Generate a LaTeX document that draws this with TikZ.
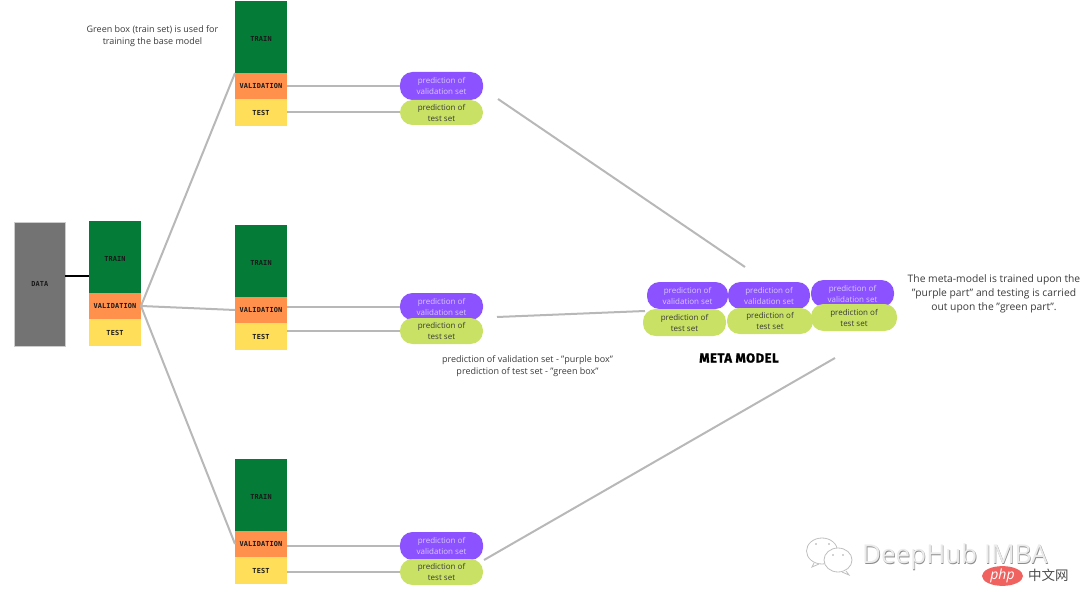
\documentclass[tikz,border=0pt]{standalone}
\usetikzlibrary{shapes.geometric}
\usepackage{fontspec}
\setmainfont{Open Sans}
\newfontfamily\monof[LetterSpace=2]{DejaVu Sans Mono}
\newfontfamily\headf[LetterSpace=4,FakeBold=1.2]{Fira Sans}
\newfontfamily\cjkf{Noto Sans CJK SC}
\definecolor{cgreen}{HTML}{047C38}
\definecolor{corange}{HTML}{FF914D}
\definecolor{cyellow}{HTML}{FFDE59}
\definecolor{cgray}{HTML}{737373}
\definecolor{cpurple}{HTML}{8C52FF}
\definecolor{clime}{HTML}{C9E265}
\definecolor{cline}{HTML}{B8B8B8}
\definecolor{clav}{HTML}{D8C8FF}
\definecolor{cnote}{HTML}{3A3A3A}
\definecolor{cphp}{HTML}{F0625F}
\tikzset{
  x=1pt,y=-1pt,
  blockbox/.style={inner sep=0pt,outer sep=0pt,minimum width=52pt,font=\monof\bfseries\fontsize{6.9}{8}\selectfont,text=black!90},
  trainbox/.style={blockbox,fill=cgreen,minimum height=72pt},
  valbox/.style={blockbox,fill=corange,minimum height=26pt},
  testbox/.style={blockbox,fill=cyellow,minimum height=27pt},
  pillbase/.style={rounded corners=12.5pt,inner sep=0pt,outer sep=0pt,align=center,font=\fontsize{8}{11}\selectfont},
  purplepill/.style={pillbase,fill=cpurple,text=clav,minimum height=27pt},
  limepill/.style={pillbase,fill=clime,text=cnote,minimum height=26pt},
  link/.style={draw=cline,line width=2pt},
  note/.style={align=center,text=cnote,inner sep=0pt,font=\fontsize{9}{12}\selectfont},
  wm/.style={inner sep=0pt,text=black!22}
}
\newcommand{\stackat}[3]{% name, left x, top y
  \node[trainbox,anchor=north west] (#1t) at (#2,#3) {\raisebox{-4.5pt}[0pt][0pt]{TRAIN}};
  \node[valbox,anchor=north] (#1v) at (#1t.south) {VALIDATION};
  \node[testbox,anchor=north] (#1e) at (#1v.south) {TEST};
}
\begin{document}
\begin{tikzpicture}
\useasboundingbox (0,0) rectangle (1080,607);
\coordinate (ma) at (745,267);
\coordinate (mb) at (835,358);
\coordinate (sa) at (498,99);
\coordinate (sb) at (497,317);

% data and stacks
\node[fill=cgray,draw=black!20,line width=.6pt,inner sep=0pt,minimum width=51pt,minimum height=124pt,anchor=north west,font=\monof\bfseries\fontsize{6.9}{8}\selectfont,text=black!90] (data) at (14,222) {\raisebox{1pt}{DATA}};
\stackat{z}{89}{221}
\stackat{a}{235}{1}
\stackat{b}{235}{225}
\stackat{c}{235}{459}
\coordinate (zo) at (141,306);
\coordinate (dj) at (65,276);
\coordinate (zj) at (89,276);

% connectors
\draw[black,line width=1.5pt] (dj) -- (zj);
\draw[link] (zo) -- (at.south west);
\draw[link] (zo) -- (bv.west);
\draw[link] (zo) -- (cv.west);
\coordinate (m1in) at (645,311);
\draw[link] (sa) -- (ma);
\draw[link] (sb) -- (m1in);
\coordinate (cs) at (484,560);
\draw[link] (cs) -- (mb);

% pills, stacks
\node[purplepill,minimum width=83pt,minimum height=28pt,anchor=north west] (ap) at (400,72) {prediction of\\validation set};
\node[limepill,minimum width=83pt,minimum height=25pt,anchor=north west] (al) at (400,100) {prediction of\\test set};
\node[purplepill,minimum width=83pt,anchor=north west] (bp) at (400,293) {prediction of\\validation set};
\node[limepill,minimum width=83pt,anchor=north west] (bl) at (400,318) {prediction of\\test set};
\node[purplepill,minimum width=83pt,minimum height=28pt,anchor=north west] (cp) at (400,532) {prediction of\\validation set};
\node[limepill,minimum width=83pt,anchor=north west] (cl) at (400,559) {prediction of\\test set};

\draw[link] (av.east |- ap.west) -- (ap.west);
\draw[link] (ae.east |- al.west) -- (al.west);
\draw[link] (bv.east |- bp.west) -- (bp.west);
\draw[link] (be.east |- bl.west) -- (bl.west);
\draw[link] (cv.east |- cp.west) -- (cp.west);
\draw[link] (ce.east |- cl.west) -- (cl.west);

% meta pills
\node[purplepill,minimum width=81pt,anchor=north west] (m1p) at (647,282) {prediction of\\validation set};
\node[purplepill,minimum width=82pt,anchor=north west] (m2p) at (728,282) {prediction of\\validation set};
\node[purplepill,minimum width=83pt,anchor=north west] (m3p) at (811,280) {prediction of\\validation set};
\node[limepill,minimum width=83pt,minimum height=27pt,anchor=north west] (m1l) at (643,309) {prediction of\\test set};
\node[limepill,minimum width=86pt,anchor=north west] (m2l) at (727,308) {prediction of\\test set};
\node[limepill,minimum width=86pt,minimum height=27pt,anchor=north west] (m3l) at (811,304) {prediction of\\test set};

% notes
\node[note] (n1) at (152.5,36) {Green box (train set) is used for\\training the base model};
\node[note] (n2) at (527.5,366) {prediction of validation set - "purple box"\\prediction of test set - "green box"};
\node[note,font=\fontsize{10.3}{14}\selectfont] (n3) at (994,294) {The meta-model is trained upon the\\"purple part" and testing is carried\\out upon the "green part".};
\node[inner sep=0pt,font=\headf\bfseries\fontsize{13}{15}\selectfont] (mm) at (739,358) {META MODEL};

% watermark
\begin{scope}[draw=black!25,fill=white,line width=.8pt]
  \draw (822,551) ellipse (15.5 and 13);
  \draw (814,563) -- (812,567) -- (819,564);
  \fill[black!35] (816,544) circle (.9) (829,544) circle (.9);
  \draw[fill=white] (838,560) ellipse (14 and 12);
  \draw[fill=white] (846,571) -- (849,575) -- (842,572);
  \fill[black!35] (833,555) circle (.9) (843,555) circle (.9);
\end{scope}
\node[wm,anchor=west,font=\fontsize{26}{28}\selectfont,text=black!45] (wms) at (862.6,557.6) {DeepHub IMBA};
\node[wm,anchor=west,font=\fontsize{26}{28}\selectfont,text=white!92!black] (wmt) at (862,557) {DeepHub IMBA};
\node[ellipse,minimum width=41pt,minimum height=18pt,inner sep=0pt,fill=cphp,text=white,font=\itshape\fontsize{14}{15}\selectfont] (php) at (1002.5,576) {php};
\node[inner sep=0pt,anchor=west,text=black!70,font=\cjkf\fontsize{13.5}{15}\selectfont] (cn) at (1028,575) {中文网};
\end{tikzpicture}
\end{document}
